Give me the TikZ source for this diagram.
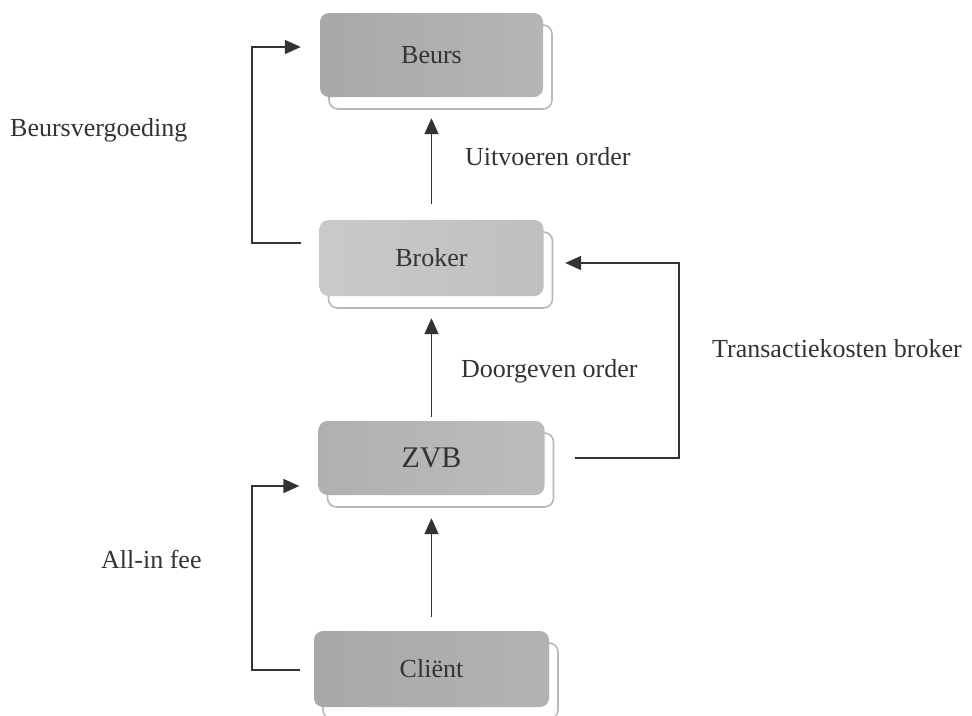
\documentclass[tikz,border=0pt]{standalone}
\usepackage{fontspec}
\setmainfont{Liberation Serif}
\usetikzlibrary{arrows.meta,shadows}
\definecolor{ink}{HTML}{333333}
\begin{document}
\begin{tikzpicture}[x=1pt,y=-1pt,
  box/.style={rectangle, rounded corners=9pt, draw=none, inner sep=0pt,
    minimum width=224pt, minimum height=76pt,
    font=\fontsize{26}{30}\selectfont, text=ink,
    copy shadow={shadow xshift=9pt, shadow yshift=-12pt, fill=white, draw=gray!55, line width=1.6pt}},
  arr/.style={draw=ink, line width=1.8pt, -{Triangle[length=16pt,width=14pt]}},
  lbl/.style={font=\fontsize{26}{30}\selectfont, text=ink, inner sep=0pt, anchor=base west}]
\useasboundingbox (0,0) rectangle (972,715);

\node[box, left color=gray!68, right color=gray!58, minimum width=223pt, minimum height=84pt] (beurs) at (431.5,55) {Beurs};
\node[box, left color=gray!42, right color=gray!50, minimum width=224pt, minimum height=76pt] (broker) at (431.5,258) {Broker};
\node[box, left color=gray!62, right color=gray!52, minimum width=226pt, minimum height=74pt, font=\fontsize{30}{34}\selectfont] (zvb) at (431.5,458) {ZVB};
\node[box, left color=gray!68, right color=gray!60, minimum width=235pt, minimum height=76pt] (client) at (431.5,669) {Cliënt};

\draw[arr, shorten <=16pt, shorten >=21pt] (broker.north) -- (beurs.south);
\draw[arr, shorten <=4pt, shorten >=22pt] (zvb.north) -- (broker.south);
\draw[arr, shorten <=14pt, shorten >=23pt] (client.north) -- (zvb.south);

\draw[arr] ([xshift=-18pt,yshift=15pt]broker.west) -- ++(-49,0) |- ([xshift=-19pt,yshift=8pt]beurs.west);
\draw[arr] ([xshift=-14pt,yshift=-1pt]client.west) -- ++(-48,0) |- ([xshift=-19pt,yshift=-28pt]zvb.west);
\draw[arr] ([xshift=30pt]zvb.east) -- ++(104,0) |- ([xshift=21.5pt,yshift=-5pt]broker.east);

\node[lbl] (l1) at (10,136) {Beursvergoeding};
\node[lbl] (l2) at (465,165) {Uitvoeren order};
\node[lbl] (l3) at (461,377) {Doorgeven order};
\node[lbl] (l4) at (712,357) {Transactiekosten broker};
\node[lbl] (l5) at (101,568) {All-in fee};
\end{tikzpicture}
\end{document}
